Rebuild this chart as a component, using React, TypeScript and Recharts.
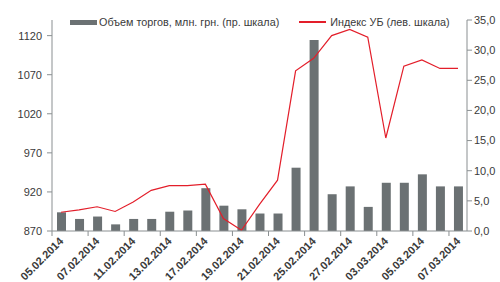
import { Bar, ComposedChart, Line, XAxis, YAxis } from 'recharts';

const dates = [
  '05.02.2014', '06.02.2014', '07.02.2014', '10.02.2014', '11.02.2014', '12.02.2014',
  '13.02.2014', '14.02.2014', '17.02.2014', '18.02.2014', '19.02.2014', '20.02.2014',
  '21.02.2014', '24.02.2014', '25.02.2014', '26.02.2014', '27.02.2014', '28.02.2014',
  '03.03.2014', '04.03.2014', '05.03.2014', '06.03.2014', '07.03.2014',
];

// объем торгов, млн. грн. (правая шкала)
const volume = [3.1, 2.0, 2.4, 1.1, 2.0, 2.0, 3.2, 3.4, 7.1, 4.2, 3.6, 2.9, 2.9, 10.5, 31.7, 6.1, 7.4, 4.0, 8.0, 8.0, 9.4, 7.4, 7.4];

// индекс УБ (левая шкала)
const ubIndex = [894, 897, 901, 895, 907, 922, 928, 928, 930, 886, 871, 904, 935, 1075, 1091, 1120, 1128, 1118, 989, 1081, 1089, 1078, 1078];

const leftTicks = [870, 920, 970, 1020, 1070, 1120];
const rightTicks = [0, 5, 10, 15, 20, 25, 30, 35];

const BAR_COLOR = '#6b7173';
const LINE_COLOR = '#e31e2a';
const AXIS_COLOR = '#8a8f91';
const TEXT_COLOR = '#3a3a3a';
const FONT = '"Liberation Sans", Arial, sans-serif';

const data = dates.map((d, i) => ({ date: d, volume: volume[i], ub: ubIndex[i] }));

const BAND = 415 / dates.length;

function DateTick({ x, y, payload }: any) {
  const tx = x + 3;
  const ty = y + 3;
  return (
    <g>
      <line x1={x - BAND / 2} x2={x - BAND / 2} y1={y - 8} y2={y - 3} stroke={AXIS_COLOR} />
      <text
        x={tx}
        y={ty}
        textAnchor="end"
        fontSize={11}
        fontWeight="bold"
        fill={TEXT_COLOR}
        fontFamily={FONT}
        transform={`rotate(-45, ${tx}, ${ty})`}
      >
        {payload.value}
      </text>
    </g>
  );
}

export default function App() {
  return (
    <div style={{ position: 'absolute', left: 0, top: 0, width: 500, height: 282, background: '#fff', fontFamily: FONT }}>
      <ComposedChart width={500} height={282} data={data} margin={{ top: 20, right: 0, bottom: 0, left: 0 }}>
        <XAxis
          dataKey="date"
          interval={1}
          height={51}
          axisLine={{ stroke: AXIS_COLOR }}
          tickLine={false}
          tick={<DateTick />}
        />
        <YAxis
          yAxisId="left"
          domain={[870, 1140]}
          ticks={leftTicks}
          width={52}
          axisLine={{ stroke: AXIS_COLOR }}
          tickLine={{ stroke: AXIS_COLOR }}
          tickSize={5}
          tickMargin={5}
          tick={{ fontSize: 11, fill: TEXT_COLOR, fontFamily: FONT }}
        />
        <YAxis
          yAxisId="right"
          orientation="right"
          domain={[0, 35]}
          ticks={rightTicks}
          width={33}
          axisLine={{ stroke: AXIS_COLOR }}
          tickLine={{ stroke: AXIS_COLOR }}
          tickSize={5}
          tickMargin={2}
          tickFormatter={(v: number) => v.toFixed(1).replace('.', ',')}
          tick={{ fontSize: 11, fill: TEXT_COLOR, fontFamily: FONT, textAnchor: 'start' }}
        />
        <Bar yAxisId="right" dataKey="volume" fill={BAR_COLOR} barSize={9} isAnimationActive={false} />
        <Line
          yAxisId="left"
          dataKey="ub"
          type="linear"
          stroke={LINE_COLOR}
          strokeWidth={1.2}
          dot={false}
          activeDot={false}
          isAnimationActive={false}
        />
      </ComposedChart>
      <div style={{ position: 'absolute', left: 70, top: 16, display: 'flex', alignItems: 'center', fontSize: 10.8, color: TEXT_COLOR, whiteSpace: 'nowrap' }}>
        <span style={{ display: 'inline-block', width: 27, height: 5, background: BAR_COLOR, marginRight: 2 }} />
        <span>Объем торгов, млн. грн. (пр. шкала)</span>
        <span style={{ display: 'inline-block', width: 27, height: 1.2, background: LINE_COLOR, marginLeft: 20, marginRight: 4 }} />
        <span>Индекс УБ (лев. шкала)</span>
      </div>
    </div>
  );
}
